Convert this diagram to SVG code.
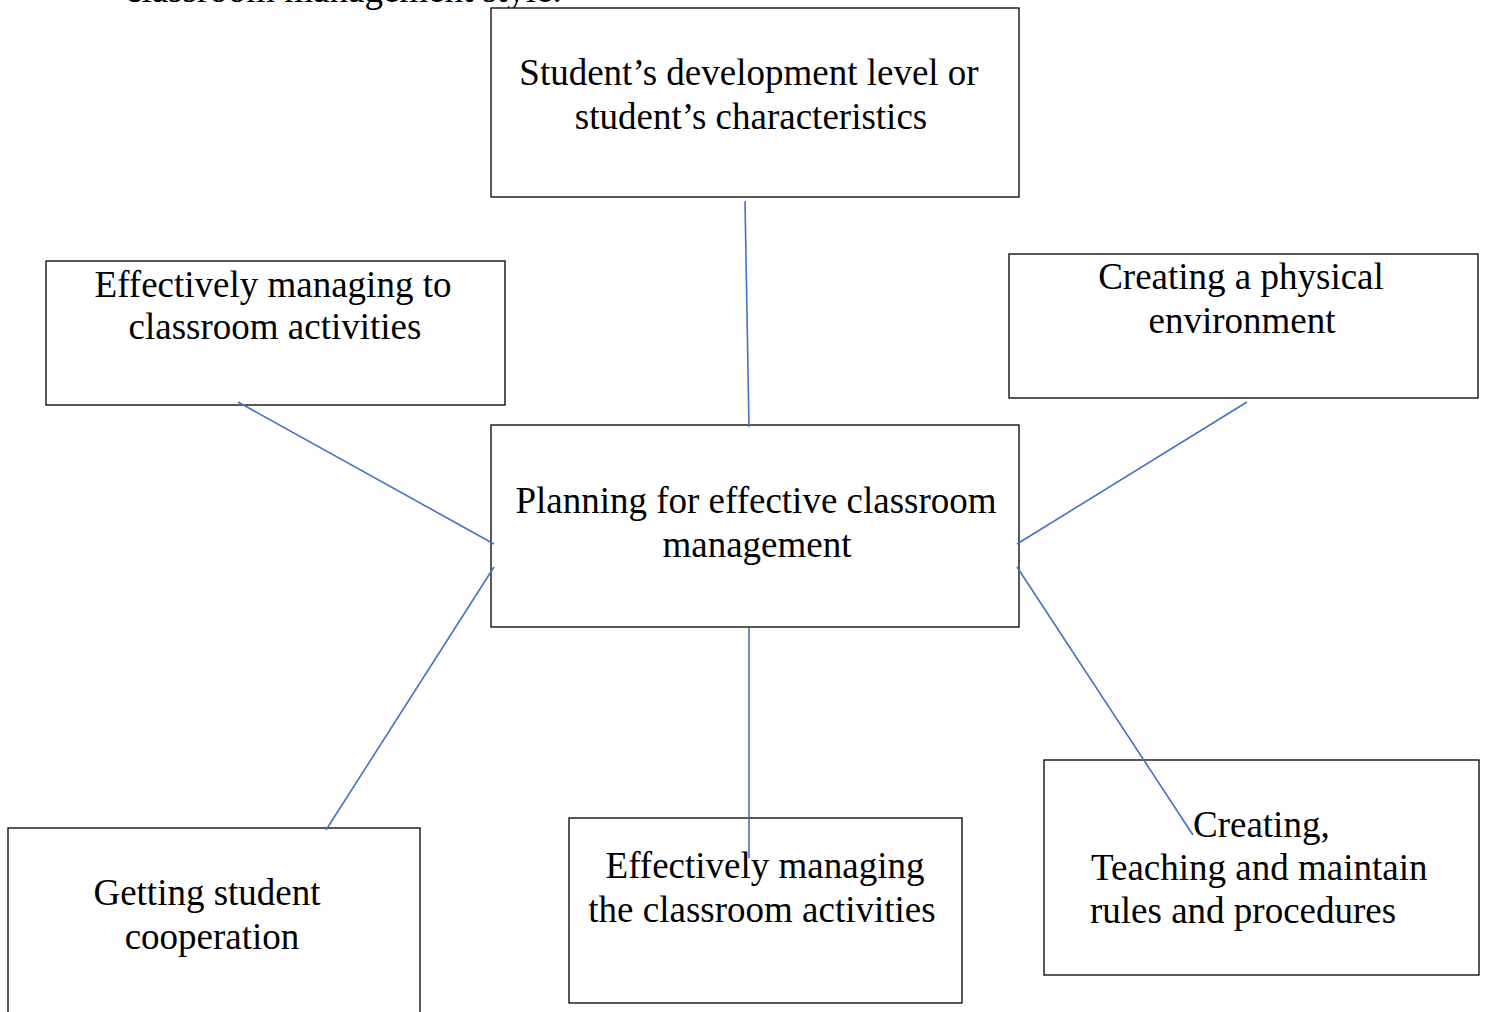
<svg xmlns="http://www.w3.org/2000/svg" width="1487" height="1012" viewBox="0 0 1487 1012">
<style>
.box{fill:#fff;stroke:#000;stroke-width:1.3}
.t{font-family:"Liberation Serif","Times New Roman",serif;font-size:37px;fill:#000}
.c{text-anchor:middle}
.con line{stroke:#4472C4;stroke-width:1.6}
</style>
<rect width="1487" height="1012" fill="#fff"/>
<text class="t" x="125" y="2">classroom management style.</text>
<g id="n-top"><rect class="box" x="491" y="8" width="528" height="189"/>
<text class="t c" x="749" y="85">Student’s development level or</text>
<text class="t c" x="751" y="129">student’s characteristics</text></g>
<g id="n-lefttop"><rect class="box" x="46" y="261" width="459" height="144"/>
<text class="t c" x="273" y="297">Effectively managing to</text>
<text class="t c" x="275" y="339">classroom activities</text></g>
<g id="n-righttop"><rect class="box" x="1009" y="254" width="469" height="144"/>
<text class="t c" x="1241" y="289">Creating a physical</text>
<text class="t c" x="1242" y="333">environment</text></g>
<g id="n-center"><rect class="box" x="491" y="425" width="528" height="202"/>
<text class="t c" x="756" y="513">Planning for effective classroom</text>
<text class="t c" x="757" y="557">management</text></g>
<g id="n-botleft"><rect class="box" x="8" y="828" width="412" height="200"/>
<text class="t c" x="207" y="905">Getting student</text>
<text class="t c" x="212" y="949">cooperation</text></g>
<g id="n-botmid"><rect class="box" x="569" y="818" width="393" height="185"/>
<text class="t c" x="765" y="878">Effectively managing</text>
<text class="t c" x="762" y="922">the classroom activities</text></g>
<g id="n-botright"><rect class="box" x="1044" y="760" width="435" height="215"/>
<text class="t" x="1193" y="837">Creating,</text>
<text class="t" x="1091" y="880">Teaching and maintain</text>
<text class="t" x="1090" y="923">rules and procedures</text></g>
<g id="connectors" class="con">
<line x1="745" y1="201" x2="749" y2="427"/>
<line x1="238" y1="402" x2="494" y2="544"/>
<line x1="1247" y1="402" x2="1017" y2="544"/>
<line x1="326" y1="830" x2="494" y2="567"/>
<line x1="749" y1="628" x2="749" y2="858"/>
<line x1="1017" y1="567" x2="1193" y2="835"/>
</g>
</svg>
